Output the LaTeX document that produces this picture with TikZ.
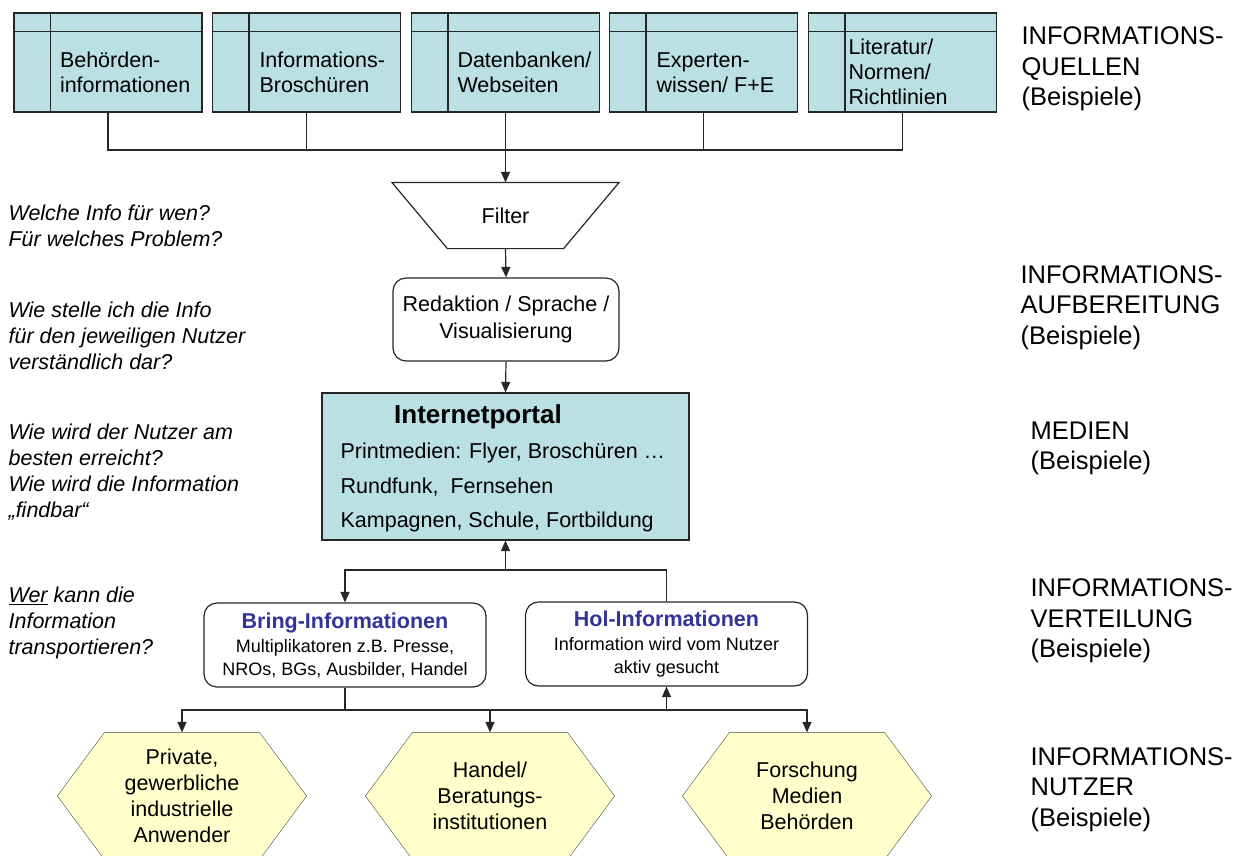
\documentclass[tikz,border=0pt]{standalone}
\usepackage{fontspec}
\setmainfont{Liberation Sans}
\usepackage{tikz}
\usetikzlibrary{arrows.meta,calc,backgrounds}

\definecolor{quellblau}{RGB}{187,224,227}
\definecolor{nutzergelb}{RGB}{255,255,204}
\definecolor{titelblau}{RGB}{51,51,153}

\tikzset{
  pfeil/.style={-{Triangle[length=10.5pt,width=9pt]}},
  quelle/.style={draw, fill=quellblau, minimum width=188pt, minimum height=99pt, inner sep=0pt},
  quelltext/.style={anchor=west, align=left, inner sep=0pt},
  rundbox/.style={draw, fill=white, rounded corners=13pt, align=center, inner sep=0pt},
  infobox/.style={rundbox, minimum width=282pt, minimum height=84pt, font=\fontsize{18}{23}\selectfont},
  nutzer/.style={minimum width=154pt, minimum height=126pt, inner sep=0pt, align=center, font=\fontsize{21.5}{26}\selectfont},
  frage/.style={anchor=west, align=left, inner sep=0pt, font=\fontsize{21.5}{26}\selectfont\itshape},
  ebene/.style={anchor=west, align=left, inner sep=0pt, font=\fontsize{25.5}{30.5}\selectfont}
}

\begin{document}
\begin{tikzpicture}[x=1pt, y=-1pt, line width=1.2pt, draw=black!85, font=\fontsize{21.5}{25}\selectfont]
\useasboundingbox (0,0) rectangle (1247,855);

% Informationsquellen
\node[quelle] (q1) at (108,62.5) {};
\node[quelle] (q2) at (306.5,62.5) {};
\node[quelle] (q3) at (505.5,62.5) {};
\node[quelle] (q4) at (703.5,62.5) {};
\node[quelle] (q5) at (902.5,62.5) {};
\foreach \q in {q1,q2,q3,q4,q5} {
  \draw ($(\q.north west)+(37,0)$) -- ($(\q.south west)+(37,0)$);
  \draw ($(\q.north west)+(0,19)$) -- ($(\q.north east)+(0,19)$);
}
\node[quelltext] (q1t) at ($(q1.west)+(46,10)$) {Behörden-\\informationen};
\node[quelltext] (q2t) at ($(q2.west)+(47,10)$) {Informations-\\Broschüren};
\node[quelltext] (q3t) at ($(q3.west)+(46,10)$) {Datenbanken/\\Webseiten};
\node[quelltext] (q4t) at ($(q4.west)+(47,10)$) {Experten-\\wissen/ F+E};
\node[quelltext] (q5t) at ($(q5.west)+(40,9.5)$) {Literatur/\\Normen/\\Richtlinien};

% Filter und Redaktion
\node[minimum width=115pt, minimum height=65pt, inner sep=0pt] (filter) at (505.5,215.5) {Filter};
\draw ($(filter.north west)+(-55.5,0)$) -- ($(filter.north east)+(55.5,0)$)
  -- (filter.south east) -- (filter.south west) -- cycle;
\node[rundbox, minimum width=226pt, minimum height=83pt, font=\fontsize{21.5}{27}\selectfont] (redaktion) at (506,319.5) {\raisebox{-3pt}{Redaktion / Sprache /}\\\raisebox{-3pt}{Visualisierung}};

% Medien
\node[draw, fill=quellblau, minimum width=367pt, minimum height=147pt] (portal) at (505.5,466.5) {};
\node[font=\fontsize{26}{30}\selectfont\bfseries] (portaltitel) at (478,417) {Internetportal};
\node[anchor=west, align=left, inner sep=0pt, font=\fontsize{21.5}{34.5}\selectfont] (portaltext) at (340,487.5) {Printmedien: Flyer, Broschüren …\\Rundfunk,\ \ Fernsehen\\Kampagnen, Schule, Fortbildung};

% Verteilung
\node[infobox] (bring) at (345,645) {{\fontsize{21.5}{25}\selectfont\bfseries\color{titelblau}Bring-Informationen}\\[1pt]Multiplikatoren z.B. Presse,\\NROs, BGs, Ausbilder, Handel};
\node[infobox] (hol) at (666.5,644) {{\fontsize{21.5}{25}\selectfont\bfseries\color{titelblau}Hol-Informationen}\\[1pt]Information wird vom Nutzer\\aktiv gesucht};

% Nutzer
\node[nutzer] (nutzer1) at (182,796) {Private,\\gewerbliche\\industrielle\\Anwender};
\node[nutzer] (nutzer2) at (490,796) {Handel/\\Beratungs-\\institutionen};
\node[nutzer] (nutzer3) at (807,796) {Forschung\\Medien\\Behörden};
\begin{scope}[on background layer]
\clip (0,0) rectangle (1247,855);
\foreach \n in {nutzer1,nutzer2,nutzer3}
  \draw[fill=nutzergelb, draw=black!70] (\n.north west) -- (\n.north east) -- ($(\n.east)+(47,0)$)
    -- (\n.south east) -- (\n.south west) -- ($(\n.west)+(-47,0)$) -- cycle;
\end{scope}

% Verbindungen
\coordinate (qbus) at (505.5,150);
\draw (q1.south) |- (qbus) -| (q5.south);
\draw (q2.south) -- (q2.south |- qbus);
\draw (q4.south) -- (q4.south |- qbus);
\draw[pfeil] (q3.south) -- (filter.north);
\draw[pfeil] (filter.south) -- (redaktion.north);
\draw[pfeil] (redaktion.south) -- (portal.north);
\coordinate (mbus) at (505.5,570);
\draw[pfeil] (mbus) -- (portal.south);
\draw[pfeil] (hol.north) |- (mbus) -| (bring.north);
\coordinate (lbus) at (490,710);
\draw (bring.south) -- (bring.south |- lbus);
\draw[pfeil] (bring.south |- lbus) -| (nutzer1.north);
\draw[pfeil] (bring.south |- lbus) -| (nutzer3.north);
\draw[pfeil] (nutzer2.north |- lbus) -- (nutzer2.north);
\draw[pfeil] (hol.south |- lbus) -- (hol.south);

% Fragen links
\node[frage] (frage1) at (8,226) {Welche Info für wen?\\Für welches Problem?};
\node[frage] (frage2) at (8,335.5) {Wie stelle ich die Info\\für den jeweiligen Nutzer\\verständlich dar?};
\node[frage] (frage3) at (8,472) {Wie wird der Nutzer am\\besten erreicht?\\Wie wird die Information\\„findbar“};
\node[frage] (frage4) at (8,623) {\underline{Wer} kann die\\Information\\transportieren?};

% Ebenen rechts
\node[ebene] (ebene1) at (1021,69) {INFORMATIONS-\\QUELLEN\\(Beispiele)};
\node[ebene] (ebene2) at (1020,307.5) {INFORMATIONS-\\AUFBEREITUNG\\(Beispiele)};
\node[ebene] (ebene3) at (1030,448.5) {MEDIEN\\(Beispiele)};
\node[ebene] (ebene4) at (1030,621) {INFORMATIONS-\\VERTEILUNG\\(Beispiele)};
\node[ebene] (ebene5) at (1030,789.5) {INFORMATIONS-\\NUTZER\\(Beispiele)};
\end{tikzpicture}
\end{document}
